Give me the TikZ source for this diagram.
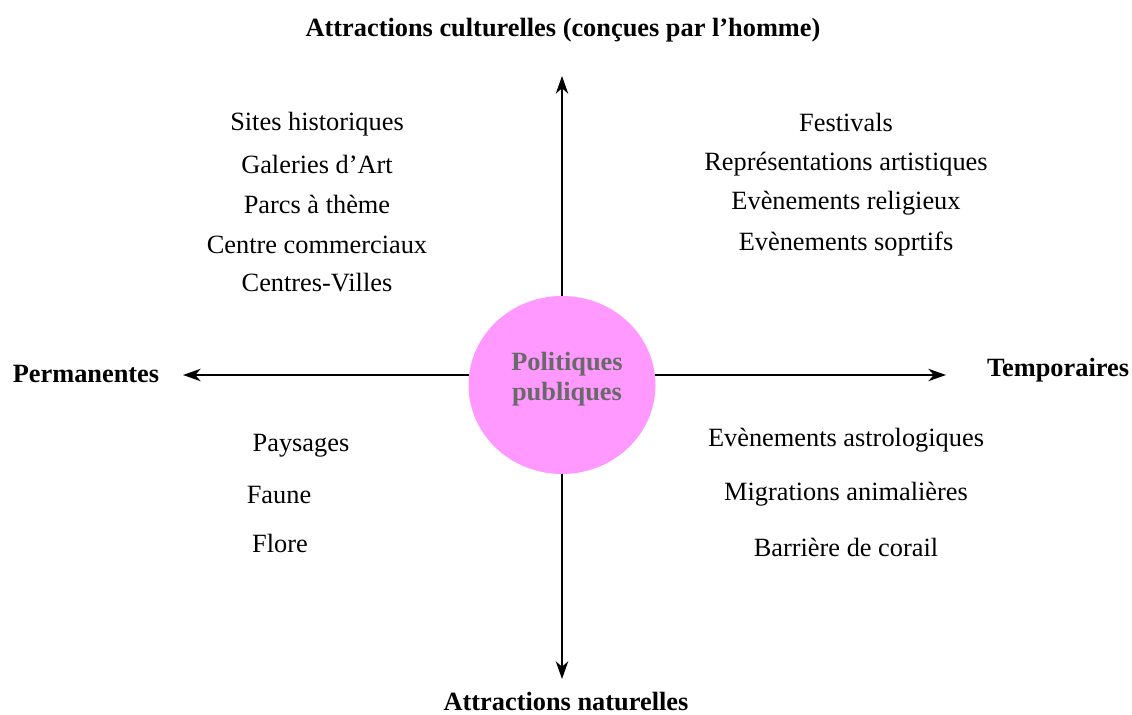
\documentclass[tikz,border=0pt]{standalone}
\usepackage{fontspec}
\setmainfont{Liberation Serif}
\usepackage{tikz}
\usetikzlibrary{arrows.meta,positioning,shapes.geometric}
\definecolor{rose}{RGB}{255,153,255}
\definecolor{grisfonce}{RGB}{105,105,105}
\newlength{\pxu}
\setlength{\pxu}{0.02cm}
\tikzset{
	item/.style={
		inner sep=1pt, text=black,
		font=\fontsize{15}{18}\selectfont
	},
	titre/.style={
		item, font=\fontsize{15}{18}\selectfont\bfseries
	},
	rond/.style={
		ellipse, fill=rose, minimum width=187\pxu, minimum height=178\pxu
	},
	rondtexte/.style={
		align=center, text=grisfonce, inner sep=0pt,
		font=\fontsize{15}{17}\selectfont\bfseries
	},
	axe/.style={-{Stealth[length=10pt,width=7pt,inset=3pt]}, line width=1.2pt}
}

\begin{document}
\begin{tikzpicture}[x=0.02cm,y=-0.02cm]
				\useasboundingbox (0,0) rectangle (1132,715);
				\coordinate (O) at (562,375);
				\coordinate (haut) at (562,76);
				\coordinate (bas) at (562,679);
				\coordinate (gauche) at (183,375);
				\coordinate (droite) at (946,375);
				\draw[axe] (O) -- (haut);
				\draw[axe] (O) -- (bas);
				\draw[axe] (O) -- (gauche);
				\draw[axe] (O) -- (droite);
				\node[rond] (pp) at (562,385) {};
				\node[rondtexte] (pptexte) at ([xshift=5\pxu,yshift=6\pxu]pp.center) {Politiques\\publiques};
				% titres des axes
				\node[titre] (culture) at (563,30) {Attractions culturelles (conçues par l’homme)};
				\node[titre, inner sep=0pt, text depth=0pt, anchor=south] (nature) at (566,711) {Attractions naturelles};
				\node[titre] (perm) at (86,374) {Permanentes};
				\node[titre] (temp) at (1058,370) {Temporaires};
				% culturelles permanentes
				\node[item] (sites) at (317,124) {Sites historiques};
				\node[item] (galeries) at (317,164) {Galeries d’Art};
				\node[item] (parcs) at (317,204) {Parcs à thème};
				\node[item] (commerce) at (317,245) {Centre commerciaux};
				\node[item] (villes) at (317,283) {Centres-Villes};
				% culturelles temporaires
				\node[item] (festivals) at (846,122) {Festivals};
				\node[item] (spectacles) at (846,164) {Représentations artistiques};
				\node[item] (religion) at (846,203) {Evènements religieux};
				\node[item] (sport) at (846,244) {Evènements soprtifs};
				% naturelles permanentes
				\node[item] (paysages) at (301,446) {Paysages};
				\node[item] (faune) at (279,495) {Faune};
				\node[item] (flore) at (280,543) {Flore};
				% naturelles temporaires
				\node[item] (astro) at (846,440) {Evènements astrologiques};
				\node[item] (migrations) at (846,494) {Migrations animalières};
				\node[item] (corail) at (846,547) {Barrière de corail};
			\end{tikzpicture}
\end{document}
